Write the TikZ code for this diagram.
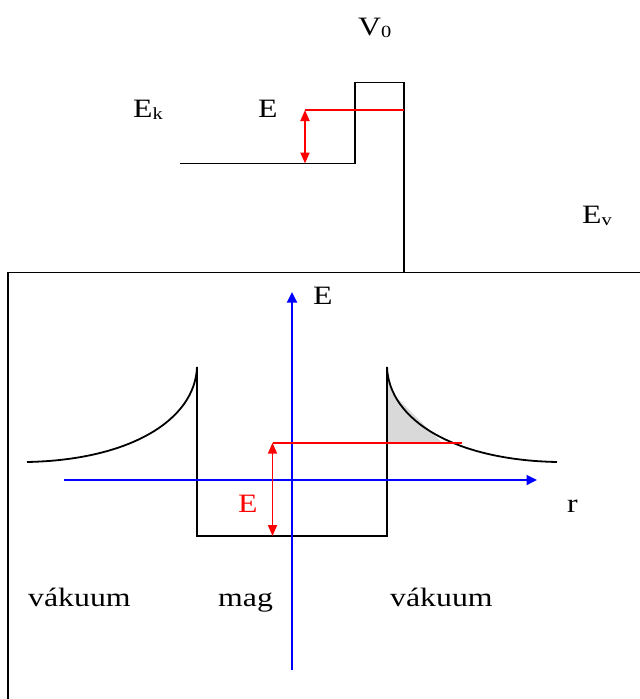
\documentclass[tikz,border=0pt]{standalone}
\usepackage{fontspec}
\setmainfont{Liberation Serif}[FakeStretch=1.2]
\usetikzlibrary{arrows.meta}
\newcommand\lowsub[1]{\raisebox{-2.5pt}{\fontsize{17}{17}\selectfont #1}}
\definecolor{tunnelgray}{HTML}{D9D9D9}
\begin{document}
\begin{tikzpicture}[x=1pt,y=-1pt,
  lbl/.style={inner sep=0pt, anchor=base west, font=\fontsize{26.5}{30}\selectfont},
  wire/.style={line width=1.8pt, line join=miter, line cap=butt},
  redline/.style={line width=1.8pt, red},
  redarrow/.style={line width=1.8pt, red, {Triangle[length=11pt,width=9pt]}-{Triangle[length=11pt,width=9pt]}},
  axis/.style={line width=1.8pt, blue, -{Triangle[length=10.5pt,width=10pt]}}]
\useasboundingbox (0,0) rectangle (640,699);

% ---- upper diagram: potential step/barrier ----
\coordinate (g0) at (180,163.5);
\coordinate (bl) at (355,163.5);
\coordinate (tl) at (355,82.5);
\coordinate (tr) at (404,82.5);
\coordinate (br) at (404,272.5);
\draw[wire] (g0) -- (bl) -- (tl) -- (tr) -- (br);
\coordinate (eTop) at (305,110);
\coordinate (eBot) at (305,163.5);
\coordinate (eEnd) at (404,110);
\draw[redline] (eTop) -- (eEnd);
\draw[redarrow] (eTop) -- (eBot);

\node[lbl] (ek) at (133,117) {E\lowsub{k}};
\node[lbl] (etop) at (258,117) {E};
\node[lbl] (vnull) at (358,35) {V\lowsub{0}};
\node[lbl] (ev) at (582,223) {E\lowsub{v}};

% ---- lower diagram frame ----
\draw[wire] (8,699) -- (8,272.5) -- (640,272.5);

% shaded tunnelling region
\fill[tunnelgray] (387,378) -- (392,393) -- (442,442.7) -- (387,442.7) -- cycle;

% potential well with Coulomb tails
\draw[wire] (27,462) .. controls (130,460) and (195,420) .. (197,367)
  -- (197,536) -- (387,536) -- (387,367)
  .. controls (389,420) and (454,460) .. (557,462);

% axes
\coordinate (xs) at (64,480);
\coordinate (xe) at (537,480);
\coordinate (ys) at (292,670);
\coordinate (ye) at (292,292);
\draw[axis] (xs) -- (xe);
\draw[axis] (ys) -- (ye);

% energy level
\coordinate (lTop) at (272.5,442.7);
\coordinate (lBot) at (272.5,536);
\coordinate (lEnd) at (461.7,442.7);
\draw[redline] (lTop) -- (lEnd);
\draw[redarrow] (lTop) -- (lBot);

\node[lbl] (eaxis) at (313,304) {E};
\node[lbl] (r) at (567,512) {r};
\node[lbl, text=red] (ered) at (238,512) {E};
\node[lbl] (vak1) at (28,606.5) {vákuum};
\node[lbl] (mag) at (218,606.5) {mag};
\node[lbl] (vak2) at (390,606.5) {vákuum};
\end{tikzpicture}
\end{document}
